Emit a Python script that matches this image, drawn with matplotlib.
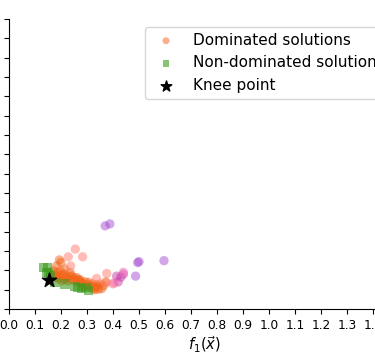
import numpy as np
import matplotlib
matplotlib.use("Agg")
import matplotlib.pyplot as plt

# ---- data ----
dom_orange_x = [0.194, 0.200, 0.183, 0.171, 0.215, 0.235, 0.241, 0.209, 0.218, 0.192,
                0.179, 0.254, 0.267, 0.280, 0.292, 0.301, 0.318, 0.331, 0.344, 0.337,
                0.350, 0.363, 0.373, 0.331, 0.356, 0.260, 0.273, 0.228, 0.202, 0.286,
                0.186, 0.205, 0.224, 0.246, 0.262, 0.278, 0.296, 0.312, 0.325, 0.340,
                0.190, 0.212, 0.232, 0.250, 0.270, 0.306, 0.322, 0.178, 0.198, 0.168]
dom_orange_y = [0.254, 0.241, 0.223, 0.198, 0.206, 0.189, 0.172, 0.180, 0.163, 0.172,
                0.163, 0.155, 0.146, 0.137, 0.141, 0.129, 0.120, 0.112, 0.103, 0.124,
                0.129, 0.120, 0.141, 0.100, 0.105, 0.163, 0.151, 0.146, 0.146, 0.117,
                0.190, 0.175, 0.160, 0.150, 0.140, 0.130, 0.122, 0.112, 0.105, 0.115,
                0.158, 0.152, 0.168, 0.160, 0.150, 0.138, 0.130, 0.180, 0.196, 0.175]

dom_salmon_x = [0.255, 0.283, 0.228, 0.237, 0.337, 0.376, 0.400, 0.372]
dom_salmon_y = [0.310, 0.270, 0.270, 0.223, 0.158, 0.184, 0.130, 0.133]

dom_purple_x = [0.370, 0.388, 0.495, 0.500, 0.596, 0.487]
dom_purple_y = [0.430, 0.440, 0.240, 0.245, 0.250, 0.170]

dom_magenta_x = [0.414, 0.440, 0.420, 0.430]
dom_magenta_y = [0.170, 0.180, 0.140, 0.165]

dom_pink_x = [0.440, 0.405]
dom_pink_y = [0.190, 0.135]

nondom_x = [0.132, 0.147, 0.145, 0.152, 0.160, 0.177, 0.215, 0.254, 0.280, 0.305, 0.296, 0.265]
nondom_y = [0.215, 0.215, 0.189, 0.190, 0.170, 0.137, 0.129, 0.117, 0.107, 0.095, 0.110, 0.112]

knee_x = [0.153]
knee_y = [0.150]

fig = plt.figure(figsize=(3.75, 3.6), dpi=100)
# axes deliberately extends past the figure edges (the reference is a crop)
ax = fig.add_axes([9 / 375, 51 / 360, 390 / 375, 290 / 360])

ms = 45
ax.scatter(dom_orange_x, dom_orange_y, s=ms, color="#f2651a", alpha=0.5,
           edgecolors="none", label="Dominated solutions")
ax.scatter(dom_salmon_x, dom_salmon_y, s=ms, color="#ff7d6e", alpha=0.5, edgecolors="none")
ax.scatter(dom_purple_x, dom_purple_y, s=ms, color="#a64fd1", alpha=0.5, edgecolors="none")
ax.scatter(dom_magenta_x, dom_magenta_y, s=ms, color="#c73ca8", alpha=0.5, edgecolors="none")
ax.scatter(dom_pink_x, dom_pink_y, s=ms, color="#f070b8", alpha=0.5, edgecolors="none")
ax.scatter(nondom_x, nondom_y, s=ms, marker="s", color="#3c9a1c", alpha=0.6,
           edgecolors="none", label="Non-dominated solutions")
ax.scatter(knee_x, knee_y, s=115, marker="*", color="black", label="Knee point", zorder=5)

ax.set_xlim(0, 1.5)
ax.set_ylim(0, 1.5)
ax.set_xticks(np.arange(0, 1.51, 0.1))
ax.set_yticks(np.arange(0, 1.51, 0.1))
ax.tick_params(labelsize=8.7)
ax.spines["top"].set_visible(False)
ax.spines["right"].set_visible(False)
ax.set_xlabel(r"$f_1(\vec{x})$", fontsize=10.5, labelpad=2)
ax.set_ylabel(r"$f_2(\vec{x})$", fontsize=10.5)
ax.legend(loc="upper right", fontsize=11, markerscale=0.75)

fig.savefig("out.png", dpi=100)
